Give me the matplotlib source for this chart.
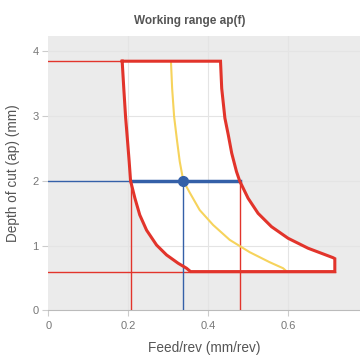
import matplotlib.pyplot as plt

plt.rcParams['font.family'] = ['Liberation Sans', 'DejaVu Sans']

# boundary curves (feed mm/rev, depth mm)
left_f = [0.185, 0.189, 0.1935, 0.1985, 0.2025, 0.206, 0.217, 0.229, 0.246,
          0.271, 0.296, 0.325, 0.346, 0.356]
left_ap = [3.85, 3.43, 2.99, 2.61, 2.30, 2.0, 1.73, 1.475, 1.24,
           1.01, 0.857, 0.729, 0.652, 0.60]
right_f = [0.431, 0.434, 0.442, 0.4505, 0.459, 0.471, 0.479, 0.500, 0.525,
           0.5585, 0.600, 0.650, 0.7125, 0.717, 0.717]
right_ap = [3.85, 3.43, 2.97, 2.71, 2.43, 2.144, 2.0, 1.733, 1.50,
            1.294, 1.115, 0.961, 0.815, 0.80, 0.60]
mid_f = [0.307, 0.310, 0.315, 0.3225, 0.329, 0.338, 0.354, 0.379, 0.4125,
         0.454, 0.504, 0.554, 0.5875, 0.597]
mid_ap = [3.85, 3.43, 2.99, 2.61, 2.30, 2.0, 1.82, 1.55, 1.32,
          1.09, 0.90, 0.745, 0.652, 0.60]

ap_max, ap_min = 3.85, 0.60
f_min_at, f_max_at = 0.206, 0.479
sel_f, sel_ap = 0.338, 2.0

red = '#e2342b'
blue = '#3460a8'
yellow = '#f6d35c'
bg = '#ebebeb'

fig = plt.figure(figsize=(3.6, 3.56), dpi=100)
ax = fig.add_axes([0.134, 0.128, 0.866, 0.771])
ax.set_facecolor(bg)

poly_f = left_f + right_f[::-1]
poly_ap = left_ap + right_ap[::-1]
ax.fill(poly_f, poly_ap, color='white', zorder=1)

for x in [0.2, 0.4, 0.6]:
    ax.axvline(x, color='#e4e4e4', lw=0.8, zorder=2)
for y in [1, 2, 3, 4]:
    ax.axhline(y, color='#e4e4e4', lw=0.8, zorder=2)

# guide lines
ax.plot([0, left_f[0]], [ap_max, ap_max], color=red, lw=1, zorder=3)
ax.plot([0, right_f[-1]], [ap_min, ap_min], color=red, lw=1, zorder=3)
ax.plot([f_min_at, f_min_at], [0, sel_ap], color=red, lw=1, zorder=3)
ax.plot([f_max_at, f_max_at], [0, sel_ap], color=red, lw=1, zorder=3)
ax.plot([0, f_min_at], [sel_ap, sel_ap], color=blue, lw=1, zorder=3)
ax.plot([sel_f, sel_f], [0, sel_ap], color=blue, lw=1, zorder=3)

ax.plot(mid_f, mid_ap, color=yellow, lw=1.5, zorder=4)
ax.plot([f_min_at, f_max_at], [sel_ap, sel_ap], color=blue, lw=2.5, zorder=5)
ax.plot(poly_f + [poly_f[0]], poly_ap + [poly_ap[0]], color=red, lw=2.2,
        solid_joinstyle='miter', zorder=6)
ax.plot([sel_f], [sel_ap], 'o', color=blue, ms=7, zorder=7)

ax.set_xlim(0, 0.78)
ax.set_ylim(0, 4.24)
ax.set_xticks([0, 0.2, 0.4, 0.6])
ax.set_xticklabels(['0', '0.2', '0.4', '0.6'])
ax.set_yticks([0, 1, 2, 3, 4])
for s in ['top', 'right', 'left']:
    ax.spines[s].set_visible(False)
ax.spines['bottom'].set_color('#bbbbbb')
ax.tick_params(axis='both', colors='#cccccc', labelcolor='#777777', labelsize=8, length=4)
ax.tick_params(axis='y', pad=3)

ax.set_xlabel('Feed/rev (mm/rev)', color='#555555', fontsize=9.8, labelpad=7)
ax.set_ylabel('Depth of cut (ap) (mm)', color='#555555', fontsize=9.8, labelpad=9)
fig.text(0.528, 0.94, 'Working range ap(f)', ha='center', va='center',
         fontsize=8.5, fontweight='bold', color='#555555')

fig.savefig('out.png', dpi=100)
